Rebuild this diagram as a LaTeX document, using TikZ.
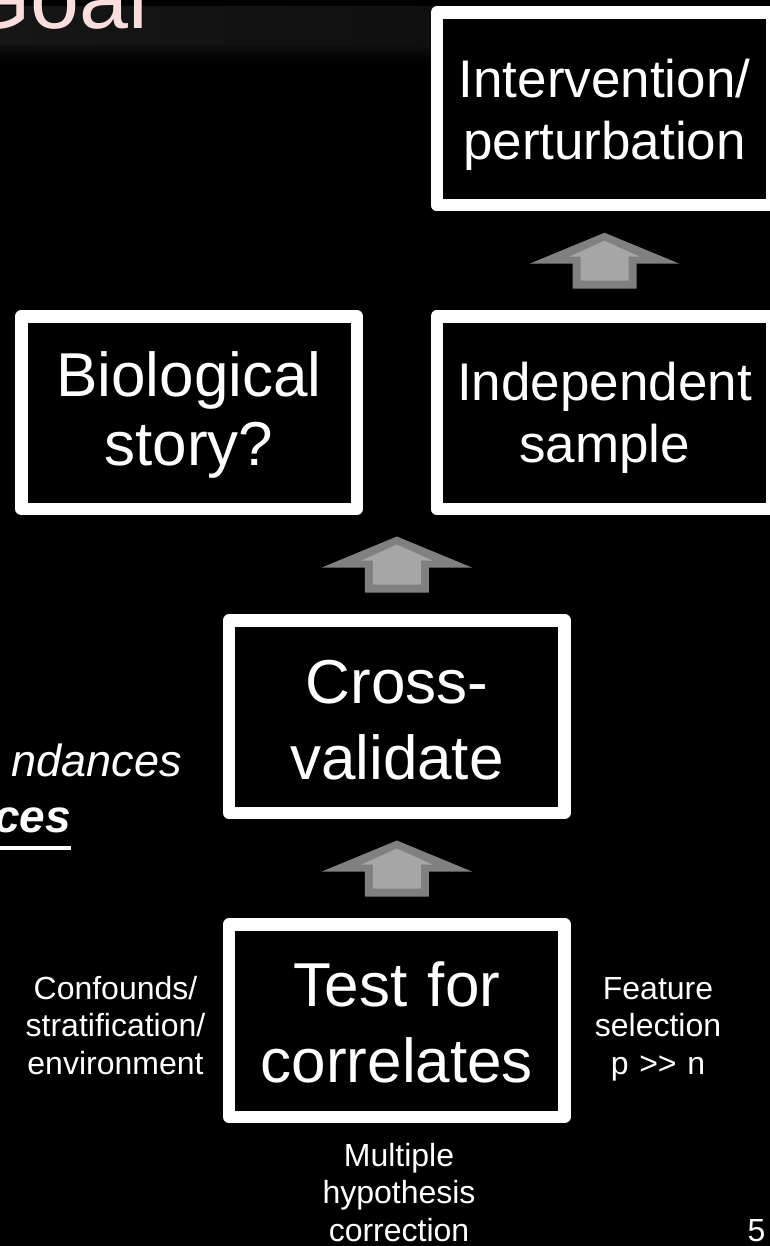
\documentclass[tikz,border=0pt]{standalone}
\usepackage{fontspec}
\setmainfont{Liberation Sans}
\usetikzlibrary{calc}
\definecolor{titlepink}{RGB}{250,222,222}
\definecolor{arrowdark}{RGB}{128,128,128}
\definecolor{arrowlight}{RGB}{166,166,166}
\definecolor{bandleft}{RGB}{22,22,22}
\definecolor{bandright}{RGB}{10,10,10}
\definecolor{bandfade}{RGB}{14,14,14}
\tikzset{
  box/.style={draw=white, fill=black, line width=12.5pt, line join=round,
    inner sep=0pt, outer sep=0pt, minimum width=335.5pt, minimum height=192.5pt,
    text=white, align=center, text width=320pt, text height=0pt},
  bigtext/.style={font=\fontsize{62}{76}\selectfont},
  midtext/.style={font=\fontsize{53}{62}\selectfont},
  lbl/.style={text=white, font=\fontsize{32}{37.5}\selectfont, align=center,
    inner sep=0pt, anchor=base},
  arrowout/.style={fill=arrowdark},
  arrowin/.style={fill=arrowlight}
}
\newcommand\blockarrow[1]{%
  \fill[arrowout,shift={(#1)}] (0,-28) -- ++(75,31) -- ++(-43,0) -- ++(0,25)
     -- ++(-64,0) -- ++(0,-25) -- ++(-43,0) -- cycle;
  \fill[arrowin,shift={(#1)}] (0,-20) -- ++(35.5,16) -- ++(-11.5,0) -- ++(0,24)
     -- ++(-48,0) -- ++(0,-24) -- ++(-11.5,0) -- cycle;}
\begin{document}
\begin{tikzpicture}[x=1pt,y=-1pt]
\useasboundingbox (0,0) rectangle (770,1246);
\fill[black] (0,0) rectangle (770,1246);
% title band
\shade[left color=bandleft, right color=bandright] (0,7) rectangle (770,47);
\shade[top color=bandfade, bottom color=black] (0,46) rectangle (770,63);
\node[text=titlepink, font=\fontsize{88}{96}\selectfont, anchor=base west, inner sep=0pt] (goal) at (-38,29) {Goal};
% boxes
\node[box, midtext, text depth=22pt] (int) at (604.5,109) {Intervention/\\perturbation};
\node[box, bigtext, font=\fontsize{62}{69}\selectfont, text depth=33pt] (bio) at (189,412.5) {Biological\\story?};
\node[box, midtext, text depth=25pt] (ind) at (604.5,412.5) {Independent\\sample};
\node[box, bigtext, text depth=27pt] (cv) at (396.9,716.5) {Cross-\\validate};
\node[box, bigtext, text depth=29pt] (test) at (396.9,1020.5) {Test for\\correlates};
% block arrows
\coordinate (a1) at ($(ind.north)!0.5!(int.south)$);
\coordinate (a2) at ($(cv.north)!0.5!(cv.north |- ind.south)$);
\coordinate (a3) at ($(test.north)!0.5!(cv.south)$);
\blockarrow{a1}
\blockarrow{a2}
\blockarrow{a3}
% side labels
\node[lbl, text width=200pt] (conf) at (115.5,999) {Confounds/\\stratification/\\environment};
\node[lbl, text width=150pt] (feat) at (658,999) {Feature\\selection\\p >\kern0pt> n};
\node[lbl, text width=200pt] (mult) at (399,1166) {Multiple\\hypothesis\\correction};
\node[lbl] (pg) at (756.5,1241) {5};
% left italic text
\node[text=white, font=\fontsize{45}{54}\selectfont\itshape, anchor=base east, inner sep=0pt] (abund) at (182,776) {ndances};
\node[text=white, font=\fontsize{46}{54}\selectfont\bfseries\itshape, anchor=base east, inner sep=0pt] (ces) at (71,832) {ces};
\draw[white, line width=3.5pt] ($(ces.base west)+(0,16)$) -- ($(ces.base east)+(0,16)$);
\end{tikzpicture}
\end{document}
